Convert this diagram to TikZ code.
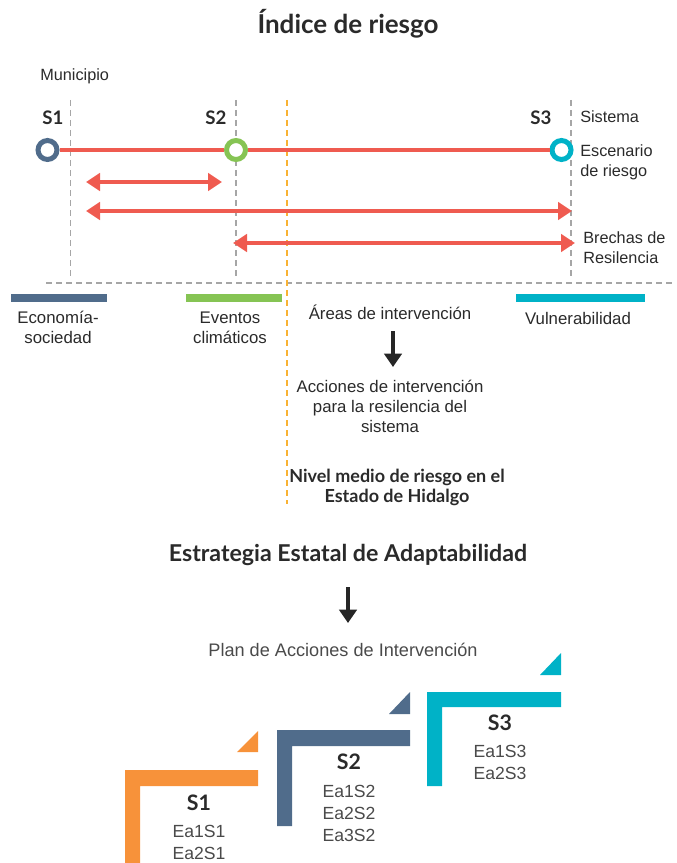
\documentclass[tikz,border=0pt]{standalone}
\usepackage{fontspec}
\setmainfont{Liberation Sans}
\newfontfamily\headf{Lato}
\usetikzlibrary{arrows.meta}
\definecolor{rd}{HTML}{EF5B50}
\definecolor{bl}{HTML}{506C8B}
\definecolor{gr}{HTML}{86C454}
\definecolor{cy}{HTML}{00B2C7}
\definecolor{og}{HTML}{F7923A}
\definecolor{gy}{HTML}{A6A6A6}
\definecolor{oy}{HTML}{F9B233}
\definecolor{txt}{HTML}{2A2A2A}
\tikzset{
  lbl/.style={text=txt,inner sep=0pt,align=center,font=\fontsize{12.6}{15}\selectfont},
  lbll/.style={lbl,align=left,anchor=west,font=\fontsize{12.2}{15}\selectfont},
  hd/.style={text=txt,inner sep=0pt,align=center,font=\headf\bfseries\fontsize{19.5}{22}\selectfont},
  hdm/.style={text=txt,inner sep=0pt,align=center,font=\headf\bfseries\fontsize{13.5}{15}\selectfont},
  slbl/.style={text=txt,inner sep=0pt,font=\headf\bfseries\fontsize{14}{15}\selectfont},
  plbl/.style={text=txt,inner sep=0pt,font=\headf\bfseries\fontsize{16}{18}\selectfont},
  ealbl/.style={text=txt!85,inner sep=0pt,align=center,font=\fontsize{13.2}{16.5}\selectfont},
  gdash/.style={draw=gy,line width=1.1pt,dash pattern=on 4.5pt off 3pt},
  odash/.style={draw=oy,line width=1.1pt,dash pattern=on 4.5pt off 3pt},
  redline/.style={draw=rd,line width=3pt},
  redarrow/.style={draw=rd,line width=3pt,{Triangle[length=10.5pt,width=13pt]}-{Triangle[length=10.5pt,width=13pt]}},
  blkarrow/.style={draw=black!85,line width=3.5pt,-{Triangle[length=10pt,width=13pt]}},
  ring/.style={circle,draw=#1,fill=white,line width=3.75pt,minimum size=14.25pt,inner sep=0pt},
}
\begin{document}
\begin{tikzpicture}[x=0.75pt,y=-0.75pt]
\useasboundingbox (0,0) rectangle (676,863);
% title
\node[hd] (title) at (348,24) {Índice de riesgo};
\node[lbll] (mun) at (40,76) {Municipio};
% dashed guides
\coordinate (v1t) at (70.5,100); \coordinate (v1b) at (70.5,280);
\coordinate (v2t) at (236,100); \coordinate (v2b) at (236,280);
\coordinate (v3t) at (571,100); \coordinate (v3b) at (571,280);
\coordinate (hl) at (46,283); \coordinate (hr) at (676,283);
\coordinate (ot) at (287,100); \coordinate (ob) at (287,504);
\draw[gdash] (v1t) -- (v1b);
\draw[gdash] (v2t) -- (v2b);
\draw[gdash] (v3t) -- (v3b);
\draw[gdash] (hl) -- (hr);
\draw[odash] (ot) -- (ob);
% S labels
\node[slbl] (s1) at (53,118) {S1};
\node[slbl] (s2) at (216,118) {S2};
\node[slbl] (s3) at (541,118) {S3};
% circles and line
\node[ring=bl] (c1) at (47.5,150) {};
\node[ring=gr] (c2) at (236,150) {};
\node[ring=cy] (c3) at (561.5,150) {};
\draw[redline] (c1) -- (c2);
\draw[redline] (c2) -- (c3);
% arrows
\coordinate (a1l) at (86,182); \coordinate (a1r) at (222,182);
\coordinate (a2l) at (86,211); \coordinate (a2r) at (572,211);
\coordinate (a3l) at (233,243); \coordinate (a3r) at (575,243);
\draw[redarrow] (a1l) -- (a1r);
\draw[redarrow] (a2l) -- (a2r);
\draw[redarrow] (a3l) -- (a3r);
% right labels
\node[lbll] (sis) at (580,117) {Sistema};
\node[lbll] (esc) at (580,162) {Escenario\\de riesgo};
\node[lbll] (bre) at (583,248) {Brechas de\\Resilencia};
% colour bars
\fill[bl] (11,294) rectangle (107,302);
\fill[gr] (186,294) rectangle (282,302);
\fill[cy] (516,294) rectangle (645,302);
\node[lbl] (eco) at (58,327) {Economía-\\sociedad};
\node[lbl] (eve) at (230,328) {Eventos\\climáticos};
\node[lbl] (are) at (390,312) {Áreas de intervención};
\node[lbl] (vul) at (578,318) {Vulnerabilidad};
\coordinate (b1t) at (393,331); \coordinate (b1b) at (393,367);
\draw[blkarrow] (b1t) -- (b1b);
\node[lbl] (acc) at (390,406) {Acciones de intervención\\para la resilencia del\\sistema};
\node[hdm] (niv) at (397,487) {Nivel medio de riesgo en el\\Estado de Hidalgo};
% lower part
\node[hd,font=\headf\bfseries\fontsize{17.4}{20}\selectfont] (est) at (348,555) {Estrategia Estatal de Adaptabilidad};
\coordinate (b2t) at (348,587); \coordinate (b2b) at (348,623);
\draw[blkarrow] (b2t) -- (b2b);
\node[lbl,text=txt!85,font=\fontsize{13.6}{15}\selectfont] (plan) at (343,650) {Plan de Acciones de Intervención};
% steps
\fill[og] (125,863) -- (125,770) -- (258,770) -- (258,786) -- (140,786) -- (140,863) -- cycle;
\fill[og] (237,752) -- (258,752) -- (258,731) -- cycle;
\fill[bl] (277,826) -- (277,730) -- (410,730) -- (410,746) -- (292,746) -- (292,826) -- cycle;
\fill[bl] (389,714) -- (410,714) -- (410,692) -- cycle;
\fill[cy] (427,786) -- (427,692) -- (561,692) -- (561,707) -- (442,707) -- (442,786) -- cycle;
\fill[cy] (540,675) -- (561,675) -- (561,653) -- cycle;
\node[plbl] (p1) at (199,803) {S1};
\node[ealbl,anchor=north] (e1) at (199,825) {Ea1S1\\Ea2S1};
\node[plbl] (p2) at (349,762) {S2};
\node[ealbl,anchor=north] (e2) at (349,785) {Ea1S2\\Ea2S2\\Ea3S2};
\node[plbl] (p3) at (500,723) {S3};
\node[ealbl,anchor=north] (e3) at (500,745) {Ea1S3\\Ea2S3};
\end{tikzpicture}
\end{document}
